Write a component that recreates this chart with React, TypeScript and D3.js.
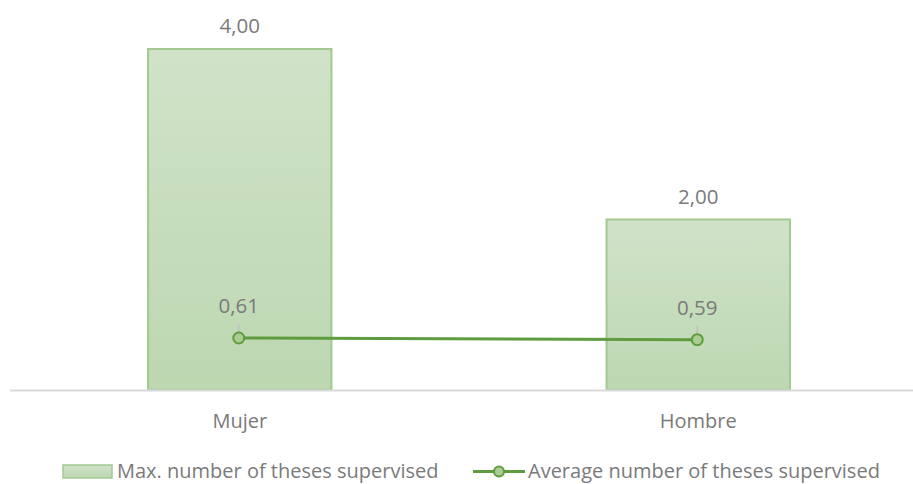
import React from "react";
import * as d3 from "d3";

const categories = ["Mujer", "Hombre"];
const maxTheses = [4.0, 2.0];
const avgTheses = [0.61, 0.59];
const seriesNames = ["Max. number of theses supervised", "Average number of theses supervised"];

const W = 913;
const H = 484;
const fmt = (v: number) => d3.format(".2f")(v).replace(".", ",");

export default function App() {
  const x = d3.scaleBand<string>().domain(categories).range([10.5, 927.5]).padding(0);
  const y = d3.scaleLinear().domain([0, 4]).range([390, 49]);
  const bw = x.bandwidth() * 0.4;
  const cx = (c: string) => (x(c) as number) + x.bandwidth() / 2;
  const line = d3.line<number>().x((_, i) => cx(categories[i]) - 1).y((d) => y(d));
  const font = "'Open Sans', 'Noto Sans', sans-serif";
  const lineColor = "#5e9c3f";
  const textColor = "#7a7a7a";
  return (
    <svg width={W} height={H} style={{ position: "absolute", left: 0, top: 0 }} fontFamily={font}>
      <defs>
        <linearGradient id="barG" x1="0" y1="0" x2="0" y2="1">
          <stop offset="0" stopColor="#d0e3c9" />
          <stop offset="1" stopColor="#bdd7b1" />
        </linearGradient>
      </defs>
      <rect width={W} height={H} fill="#fff" />
      {categories.map((c, i) => (
        <g key={c}>
          <rect x={cx(c) - bw / 2} y={y(maxTheses[i])} width={bw} height={y(0) - y(maxTheses[i])}
            fill="url(#barG)" stroke="#a3c993" strokeWidth={2} />
          <text x={cx(c)} y={y(maxTheses[i]) - 16} textAnchor="middle" fontSize={20.5} fill={textColor}>{fmt(maxTheses[i])}</text>
        </g>
      ))}
      <line x1={10} x2={913} y1={390.5} y2={390.5} stroke="#d9d9d9" strokeWidth={2} />
      <path d={line(avgTheses) || ""} fill="none" stroke={lineColor} strokeWidth={3} />
      {categories.map((c, i) => (
        <g key={c + "p"}>
          <line x1={cx(c) - 1} x2={cx(c) - 1} y1={y(avgTheses[i]) - 14} y2={y(avgTheses[i]) - 6} stroke="#bfbfbf" strokeWidth={1.5} />
          <circle cx={cx(c) - 1} cy={y(avgTheses[i])} r={5.5} fill="#a9cd92" stroke={lineColor} strokeWidth={2} />
          <text x={cx(c) - 1} y={y(avgTheses[i]) - 25} textAnchor="middle" fontSize={20.5} fill={textColor}>{fmt(avgTheses[i])}</text>
          <text x={cx(c)} y={428} textAnchor="middle" fontSize={20} fill={textColor}>{c}</text>
        </g>
      ))}
      <g>
        <rect x={63} y={465} width={49} height={13} fill="url(#barG)" stroke="#a3c993" strokeWidth={1.5} />
        <text x={117} y={478} fontSize={20} fill={textColor}>{seriesNames[0]}</text>
        <line x1={473} x2={525} y1={471.5} y2={471.5} stroke={lineColor} strokeWidth={3} />
        <circle cx={499} cy={471.5} r={5} fill="#a9cd92" stroke={lineColor} strokeWidth={2} />
        <text x={528} y={478} fontSize={20} fill={textColor}>{seriesNames[1]}</text>
      </g>
    </svg>
  );
}
